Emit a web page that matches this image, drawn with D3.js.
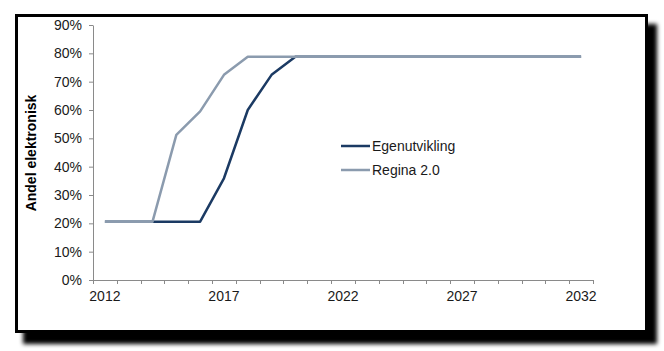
<!DOCTYPE html>
<html>
<head>
<meta charset="utf-8">
<script src="https://cdn.jsdelivr.net/npm/d3@7"></script>
<style>
    html, body { margin: 0; padding: 0; background: #fff; }
    svg { display: block; font-family: "Liberation Sans", Arial, sans-serif; }
</style>
</head>
<body>
<svg id="chart" width="664" height="351"></svg>
<script>
    // Data
    const years = d3.range(2012, 2033);
    const yearLabels = [2012, 2017, 2022, 2027, 2032];
    const yTicks = [0, 10, 20, 30, 40, 50, 60, 70, 80, 90];
    const egenutvikling = [20.6, 20.6, 20.6, 20.6, 20.6, 35.9, 60, 72.4, 78.8, 78.8, 78.8,
                           78.8, 78.8, 78.8, 78.8, 78.8, 78.8, 78.8, 78.8, 78.8, 78.8];
    const regina = [20.6, 20.6, 20.6, 51.2, 59.5, 72.4, 78.8, 78.8, 78.8, 78.8, 78.8,
                    78.8, 78.8, 78.8, 78.8, 78.8, 78.8, 78.8, 78.8, 78.8, 78.8];

    const series = [
        { name: 'Egenutvikling', values: egenutvikling, color: '#1B3A63' },
        { name: 'Regina 2.0', values: regina, color: '#8B9BAE' }
    ];

    const AXIS_COLOR = '#8a8a8a';
    const TEXT_COLOR = '#1a1a1a';

    const svg = d3.select('#chart');

    // Frame with drop shadow
    const defs = svg.append('defs');
    defs.append('filter')
        .attr('id', 'shadow')
        .attr('x', '-5%').attr('y', '-5%').attr('width', '110%').attr('height', '110%')
        .append('feGaussianBlur')
        .attr('stdDeviation', 2);

    svg.append('rect')
        .attr('x', 23).attr('y', 24)
        .attr('width', 634).attr('height', 320)
        .attr('fill', '#000')
        .attr('filter', 'url(#shadow)');

    svg.append('rect')
        .attr('x', 16.5).attr('y', 15.5)
        .attr('width', 630).attr('height', 316)
        .attr('fill', '#fff')
        .attr('stroke', '#000')
        .attr('stroke-width', 3);

    // Scales
    const x = d3.scaleBand().domain(years).range([93, 593]).padding(0);
    const y = d3.scaleLinear().domain([0, 90]).range([280, 25]);
    const cx = (i) => x(years[i]) + x.bandwidth() / 2;

    // Y axis
    const yAxis = svg.append('g')
        .attr('transform', 'translate(93,0)')
        .call(d3.axisLeft(y).tickValues(yTicks).tickFormat((d) => d + '%').tickSize(4).tickSizeOuter(0));
    yAxis.select('.domain').attr('stroke', AXIS_COLOR);
    yAxis.selectAll('.tick line').attr('stroke', AXIS_COLOR);
    yAxis.selectAll('.tick text')
        .attr('x', -11)
        .attr('fill', TEXT_COLOR)
        .style('font-size', '14px')
        .style('font-family', '"Liberation Sans", Arial, sans-serif');

    // X axis (category boundaries as ticks, labels centred)
    const xAxis = svg.append('g');
    xAxis.append('line')
        .attr('x1', 93).attr('x2', 593)
        .attr('y1', y(0) + 0.5).attr('y2', y(0) + 0.5)
        .attr('stroke', AXIS_COLOR);
    xAxis.selectAll('line.tick')
        .data(years.map((yr) => x(yr)).concat([x.range()[1]]))
        .enter().append('line')
        .attr('class', 'tick')
        .attr('x1', (d) => Math.round(d) + 0.5).attr('x2', (d) => Math.round(d) + 0.5)
        .attr('y1', y(0)).attr('y2', y(0) + 4)
        .attr('stroke', AXIS_COLOR);
    xAxis.selectAll('text')
        .data(yearLabels)
        .enter().append('text')
        .attr('x', (d) => x(d) + x.bandwidth() / 2)
        .attr('y', 301)
        .attr('text-anchor', 'middle')
        .attr('fill', TEXT_COLOR)
        .style('font-size', '14px')
        .text((d) => d);

    // Y axis title
    svg.append('text')
        .attr('transform', 'translate(36,153) rotate(-90)')
        .attr('text-anchor', 'middle')
        .attr('fill', '#000')
        .style('font-size', '14px')
        .style('font-weight', 'bold')
        .text('Andel elektronisk');

    // Lines
    const line = d3.line()
        .x((d, i) => cx(i))
        .y((d) => y(d));

    svg.append('g').selectAll('path')
        .data(series)
        .enter().append('path')
        .attr('d', (s) => line(s.values))
        .attr('fill', 'none')
        .attr('stroke', (s) => s.color)
        .attr('stroke-width', 2.5)
        .attr('stroke-linejoin', 'round');

    // Legend
    const legend = svg.append('g').selectAll('g')
        .data(series)
        .enter().append('g')
        .attr('transform', (s, i) => 'translate(341,' + (146 + i * 24) + ')');
    legend.append('line')
        .attr('x1', 0).attr('x2', 29)
        .attr('stroke', (s) => s.color)
        .attr('stroke-width', 2.5);
    legend.append('text')
        .attr('x', 31)
        .attr('dy', '0.35em')
        .attr('fill', TEXT_COLOR)
        .style('font-size', '14px')
        .text((s) => s.name);
</script>
</body>
</html>
